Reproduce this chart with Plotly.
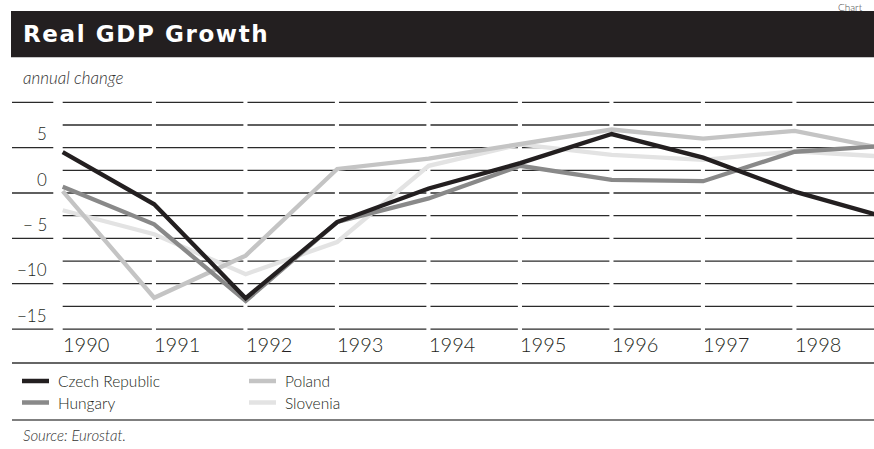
import plotly.graph_objects as go

# ---- data ----
years = [1989, 1990, 1991, 1992, 1993, 1994, 1995, 1996, 1997, 1998]
col_labels = [1990, 1991, 1992, 1993, 1994, 1995, 1996, 1997, 1998]
czech = [4.5, -1.25, -11.6, -3.2, 0.5, 3.3, 6.5, 3.9, 0.15, -2.7]
hungary = [0.7, -3.45, -11.9, -3.2, -0.6, 3.0, 1.45, 1.3, 4.55, 5.2]
poland = [0.2, -11.55, -6.9, 2.65, 3.8, 5.35, 7.0, 6.0, 6.85, 4.85]
slovenia = [-1.9, -4.55, -8.95, -5.4, 3.0, 5.35, 4.2, 3.65, 4.6, 4.0]
grid_vals = [10, 7.5, 5, 2.5, 0, -2.5, -5, -7.5, -10, -12.5, -15]
ytick_vals = [5, 0, -5, -10, -15]
ytick_text = ["5", "0", "\u2212 5", "\u221210", "\u221215"]

series = [
    ("Slovenia", slovenia, "#e3e3e3"),
    ("Poland", poland, "#c4c4c4"),
    ("Hungary", hungary, "#898989"),
    ("Czech Republic", czech, "#231f20"),
]

W, H = 874, 449
ML, MR, MT, MB = 12, 0, 95, 110
PW, PH = W - ML - MR, H - MT - MB
X0, X1 = 1988.446, 1997.867
Y0, Y1 = -16.097, 10.805
pxu = PW / (X1 - X0)

def px_x(p):
    return (p - ML) / PW

def px_y(p):
    return (H - MB - p) / PH

FONT = "Lato"
LW = 300
fig = go.Figure()
for name, vals, col in series:
    fig.add_trace(go.Scatter(x=years, y=vals, mode="lines", name=name,
                             line=dict(color=col, width=4.3), showlegend=False,
                             cliponaxis=True))

shapes = []
GRID = "#2a2a2a"
lab_x0 = X0
lab_x1 = years[0] - 9.4 / pxu
for v in ytick_vals + [10]:
    shapes.append(dict(type="line", xref="x", yref="y", x0=lab_x0, x1=lab_x1, y0=v, y1=v,
                       line=dict(color=GRID, width=1.3), layer="below"))
for i in range(len(years) - 1):
    xs = years[i] + (0 if i == 0 else 1.8 / pxu)
    xe = min(years[i + 1] - 2.3 / pxu, X1)
    for v in grid_vals:
        shapes.append(dict(type="line", xref="x", yref="y", x0=xs, x1=xe, y0=v, y1=v,
                           line=dict(color=GRID, width=1.3), layer="below"))

shapes.append(dict(type="rect", xref="paper", yref="paper", x0=px_x(11), x1=px_x(880),
                   y0=px_y(57.3), y1=px_y(11), fillcolor="#231f20", line=dict(width=0)))
shapes.append(dict(type="line", xref="paper", yref="paper", x0=px_x(12), x1=px_x(880),
                   y0=px_y(363), y1=px_y(363), line=dict(color="#333333", width=1.3)))
shapes.append(dict(type="line", xref="paper", yref="paper", x0=px_x(12), x1=px_x(880),
                   y0=px_y(420), y1=px_y(420), line=dict(color="#555555", width=1.3)))

annotations = []
for v, t in zip(ytick_vals, ytick_text):
    annotations.append(dict(xref="x", yref="y", x=years[0] - 13.5 / pxu, y=v, yshift=14,
                            text=t, showarrow=False, xanchor="right", yanchor="middle",
                            font=dict(family=FONT, size=17, color="#231f20", weight=LW)))
for lab, yr in zip(col_labels, years):
    annotations.append(dict(xref="x", yref="y", x=yr, y=-15, yshift=-15, xshift=-2,
                            text=str(lab), showarrow=False, xanchor="left", yanchor="middle",
                            font=dict(family=FONT, size=20, color="#231f20", weight=LW)))

annotations.append(dict(xref="paper", yref="paper", x=px_x(21), y=px_y(34),
                        text='<span style="letter-spacing:1.6px">Real GDP Growth</span>',
                        showarrow=False, xanchor="left", yanchor="middle",
                        font=dict(family="DejaVu Sans", size=23, color="white", weight=700)))
annotations.append(dict(xref="paper", yref="paper", x=px_x(836), y=px_y(6.5),
                        text="Chart", showarrow=False, xanchor="left", yanchor="middle",
                        font=dict(family=FONT, size=10, color="#444444", weight=LW)))
annotations.append(dict(xref="paper", yref="paper", x=px_x(21), y=px_y(77.5),
                        text="<i>annual change</i>", showarrow=False, xanchor="left",
                        yanchor="middle", font=dict(family=FONT, size=17, color="#333333", weight=LW)))
annotations.append(dict(xref="paper", yref="paper", x=px_x(21), y=px_y(435),
                        text="<i>Source: Eurostat.</i>", showarrow=False, xanchor="left",
                        yanchor="middle", font=dict(family=FONT, size=15, color="#333333", weight=LW)))

leg = [("Czech Republic", "#231f20", 20, 381), ("Hungary", "#898989", 20, 402.5),
       ("Poland", "#c4c4c4", 247, 381), ("Slovenia", "#e3e3e3", 247, 402.5)]
for name, col, lx, ly in leg:
    shapes.append(dict(type="line", xref="paper", yref="paper", x0=px_x(lx + 2), x1=px_x(lx + 29),
                       y0=px_y(ly), y1=px_y(ly), line=dict(color=col, width=4.5)))
    annotations.append(dict(xref="paper", yref="paper", x=px_x(lx + 36), y=px_y(ly),
                            text=name, showarrow=False, xanchor="left", yanchor="middle",
                            font=dict(family=FONT, size=15.5, color="#231f20", weight=LW)))

fig.update_layout(
    width=W, height=H, margin=dict(l=ML, r=MR, t=MT, b=MB, pad=0),
    paper_bgcolor="white", plot_bgcolor="white",
    xaxis=dict(range=[X0, X1], showgrid=False, zeroline=False, showticklabels=False,
               showline=False, ticks=""),
    yaxis=dict(range=[Y0, Y1], showgrid=False, zeroline=False, showticklabels=False,
               showline=False, ticks=""),
    shapes=shapes, annotations=annotations, showlegend=False,
)
fig.write_html("out.html")
